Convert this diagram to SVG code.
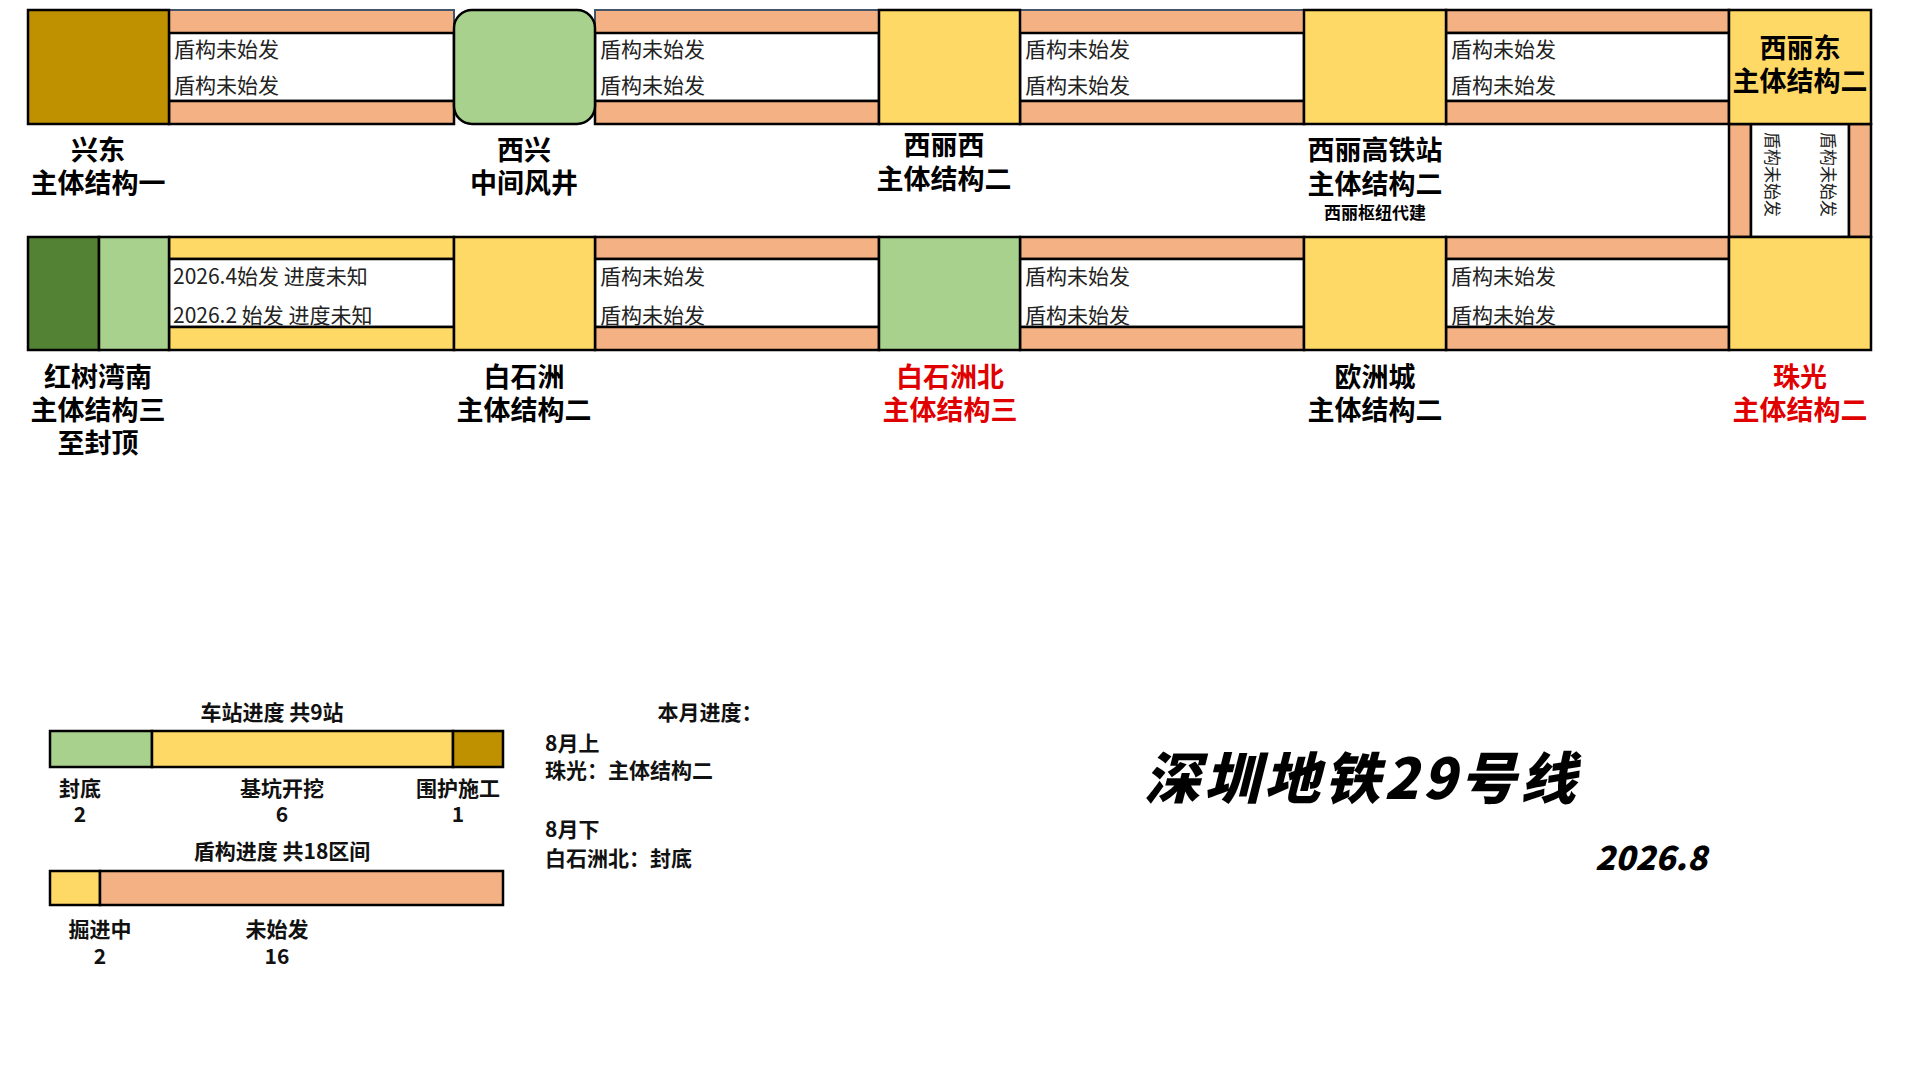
<svg xmlns="http://www.w3.org/2000/svg" width="1920" height="1078" viewBox="0 0 1920 1078">
<style>
.s{stroke:#000;stroke-width:2.5}
.gold{fill:#BF9000}.lg{fill:#A9D18E}.dg{fill:#548235}.y{fill:#FFD966}.o{fill:#F4B183}.w{fill:#fff}
text{font-family:"Noto Sans CJK SC","Liberation Sans",sans-serif;dominant-baseline:central}
.t{font-size:21px;fill:#222}
.lb{font-size:27px;font-weight:bold;text-anchor:middle;fill:#000}
.red{fill:#E00000}
.lg2{font-size:21px;font-weight:bold;fill:#111}
.c{text-anchor:middle}
</style>
<rect width="1920" height="1078" fill="#fff"/>
<g id="connectors">
<g id="t1"><rect x="169" y="10" width="285" height="23" class="o" stroke="#44546A" stroke-width="2"/><rect x="169" y="33" width="285" height="68" class="w s"/><rect x="169" y="101" width="285" height="23" class="o s"/>
<text x="174" y="48" class="t">盾构未始发</text><text x="174" y="84" class="t">盾构未始发</text></g>
<g id="t2"><rect x="595" y="10" width="284" height="23" class="o" stroke="#44546A" stroke-width="2"/><rect x="595" y="33" width="284" height="68" class="w s"/><rect x="595" y="101" width="284" height="23" class="o s"/>
<text x="600" y="48" class="t">盾构未始发</text><text x="600" y="84" class="t">盾构未始发</text></g>
<g id="t3"><rect x="1020" y="10" width="284" height="23" class="o" stroke="#44546A" stroke-width="2"/><rect x="1020" y="33" width="284" height="68" class="w s"/><rect x="1020" y="101" width="284" height="23" class="o s"/>
<text x="1025" y="48" class="t">盾构未始发</text><text x="1025" y="84" class="t">盾构未始发</text></g>
<g id="t4"><rect x="1446" y="10" width="283" height="23" class="o s"/><rect x="1446" y="33" width="283" height="68" class="w s"/><rect x="1446" y="101" width="283" height="23" class="o s"/>
<text x="1451" y="48" class="t">盾构未始发</text><text x="1451" y="84" class="t">盾构未始发</text></g>
<g id="t5"><rect x="1729" y="124" width="22" height="113" class="o s"/><rect x="1751" y="124" width="98" height="113" class="w s"/><rect x="1849" y="124" width="22" height="113" class="o s"/>
<text transform="translate(1773,132) rotate(90)" font-size="17" fill="#222" style="dominant-baseline:central">盾构未始发</text>
<text transform="translate(1829,132) rotate(90)" font-size="17" fill="#222" style="dominant-baseline:central">盾构未始发</text></g>
<g id="b1"><rect x="169" y="237" width="285" height="22" class="y s"/><rect x="169" y="259" width="285" height="68" class="w s"/><rect x="169" y="327" width="285" height="23" class="y s"/>
<text x="173" y="275" class="t">2026.4始发 进度未知</text><text x="173" y="314" class="t">2026.2 始发 进度未知</text></g>
<g id="b2"><rect x="595" y="237" width="284" height="22" class="o s"/><rect x="595" y="259" width="284" height="68" class="w s"/><rect x="595" y="327" width="284" height="23" class="o s"/>
<text x="600" y="275" class="t">盾构未始发</text><text x="600" y="314" class="t">盾构未始发</text></g>
<g id="b3"><rect x="1020" y="237" width="284" height="22" class="o s"/><rect x="1020" y="259" width="284" height="68" class="w s"/><rect x="1020" y="327" width="284" height="23" class="o s"/>
<text x="1025" y="275" class="t">盾构未始发</text><text x="1025" y="314" class="t">盾构未始发</text></g>
<g id="b4"><rect x="1446" y="237" width="283" height="22" class="o s"/><rect x="1446" y="259" width="283" height="68" class="w s"/><rect x="1446" y="327" width="283" height="23" class="o s"/>
<text x="1451" y="275" class="t">盾构未始发</text><text x="1451" y="314" class="t">盾构未始发</text></g>
</g>
<g id="xingdong"><rect x="28" y="10" width="141" height="114" class="gold s"/><text x="98" y="148" class="lb">兴东</text><text x="98" y="181" class="lb">主体结构一</text></g>
<g id="xixing"><rect x="454" y="10" width="141" height="114" rx="18" class="lg s"/><text x="524" y="148" class="lb">西兴</text><text x="524" y="181" class="lb">中间风井</text></g>
<g id="xilixi"><rect x="879" y="10" width="141" height="114" class="y s"/><text x="944" y="143" class="lb">西丽西</text><text x="944" y="177" class="lb">主体结构二</text></g>
<g id="xiligaotie"><rect x="1304" y="10" width="142" height="114" class="y s"/><text x="1375" y="148" class="lb">西丽高铁站</text><text x="1375" y="182" class="lb">主体结构二</text><text x="1375" y="211" font-size="17" font-weight="bold" text-anchor="middle">西丽枢纽代建</text></g>
<g id="xilidong"><rect x="1729" y="10" width="142" height="114" class="y s"/><text x="1800" y="46" class="lb">西丽东</text><text x="1800" y="79" class="lb">主体结构二</text></g>
<g id="hongshuwan"><rect x="28" y="237" width="71" height="113" class="dg s"/><rect x="99" y="237" width="70" height="113" class="lg s"/><text x="98" y="375" class="lb">红树湾南</text><text x="98" y="408" class="lb">主体结构三</text><text x="98" y="441" class="lb">至封顶</text></g>
<g id="baishizhou"><rect x="454" y="237" width="141" height="113" class="y s"/><text x="524" y="375" class="lb">白石洲</text><text x="524" y="408" class="lb">主体结构二</text></g>
<g id="baishizhoubei"><rect x="879" y="237" width="141" height="113" class="lg s"/><text x="950" y="375" class="lb red">白石洲北</text><text x="950" y="408" class="lb red">主体结构三</text></g>
<g id="ouzhoucheng"><rect x="1304" y="237" width="142" height="113" class="y s"/><text x="1375" y="375" class="lb">欧洲城</text><text x="1375" y="408" class="lb">主体结构二</text></g>
<g id="zhuguang"><rect x="1729" y="237" width="142" height="113" class="y s"/><text x="1800" y="375" class="lb red">珠光</text><text x="1800" y="408" class="lb red">主体结构二</text></g>
<g id="legend">
<text x="272" y="711" class="lg2 c">车站进度 共9站</text>
<rect x="50" y="731" width="102" height="36" class="lg s"/><rect x="152" y="731" width="301" height="36" class="y s"/><rect x="453" y="731" width="50" height="36" class="gold s"/>
<text x="80" y="787" class="lg2 c">封底</text><text x="80" y="813" class="lg2 c">2</text>
<text x="282" y="787" class="lg2 c">基坑开挖</text><text x="282" y="813" class="lg2 c">6</text>
<text x="458" y="787" class="lg2 c">围护施工</text><text x="458" y="813" class="lg2 c">1</text>
<text x="282" y="850" class="lg2 c">盾构进度 共18区间</text>
<rect x="50" y="871" width="50" height="34" class="y s"/><rect x="100" y="871" width="403" height="34" class="o s"/>
<text x="100" y="928" class="lg2 c">掘进中</text><text x="100" y="955" class="lg2 c">2</text>
<text x="277" y="928" class="lg2 c">未始发</text><text x="277" y="955" class="lg2 c">16</text>
</g>
<g id="monthly">
<text x="710" y="711" class="lg2 c">本月进度：</text>
<text x="545" y="742" class="lg2">8月上</text><text x="545" y="769" class="lg2">珠光：主体结构二</text>
<text x="545" y="828" class="lg2">8月下</text><text x="545" y="857" class="lg2">白石洲北：封底</text>
</g>
<g id="title">
<text x="1362" y="774" font-size="56" font-weight="900" font-style="italic" text-anchor="middle" letter-spacing="4">深圳地铁29号线</text>
<text x="1651" y="856" font-size="33" font-weight="900" font-style="italic" text-anchor="middle">2026.8</text>
</g>
</svg>
